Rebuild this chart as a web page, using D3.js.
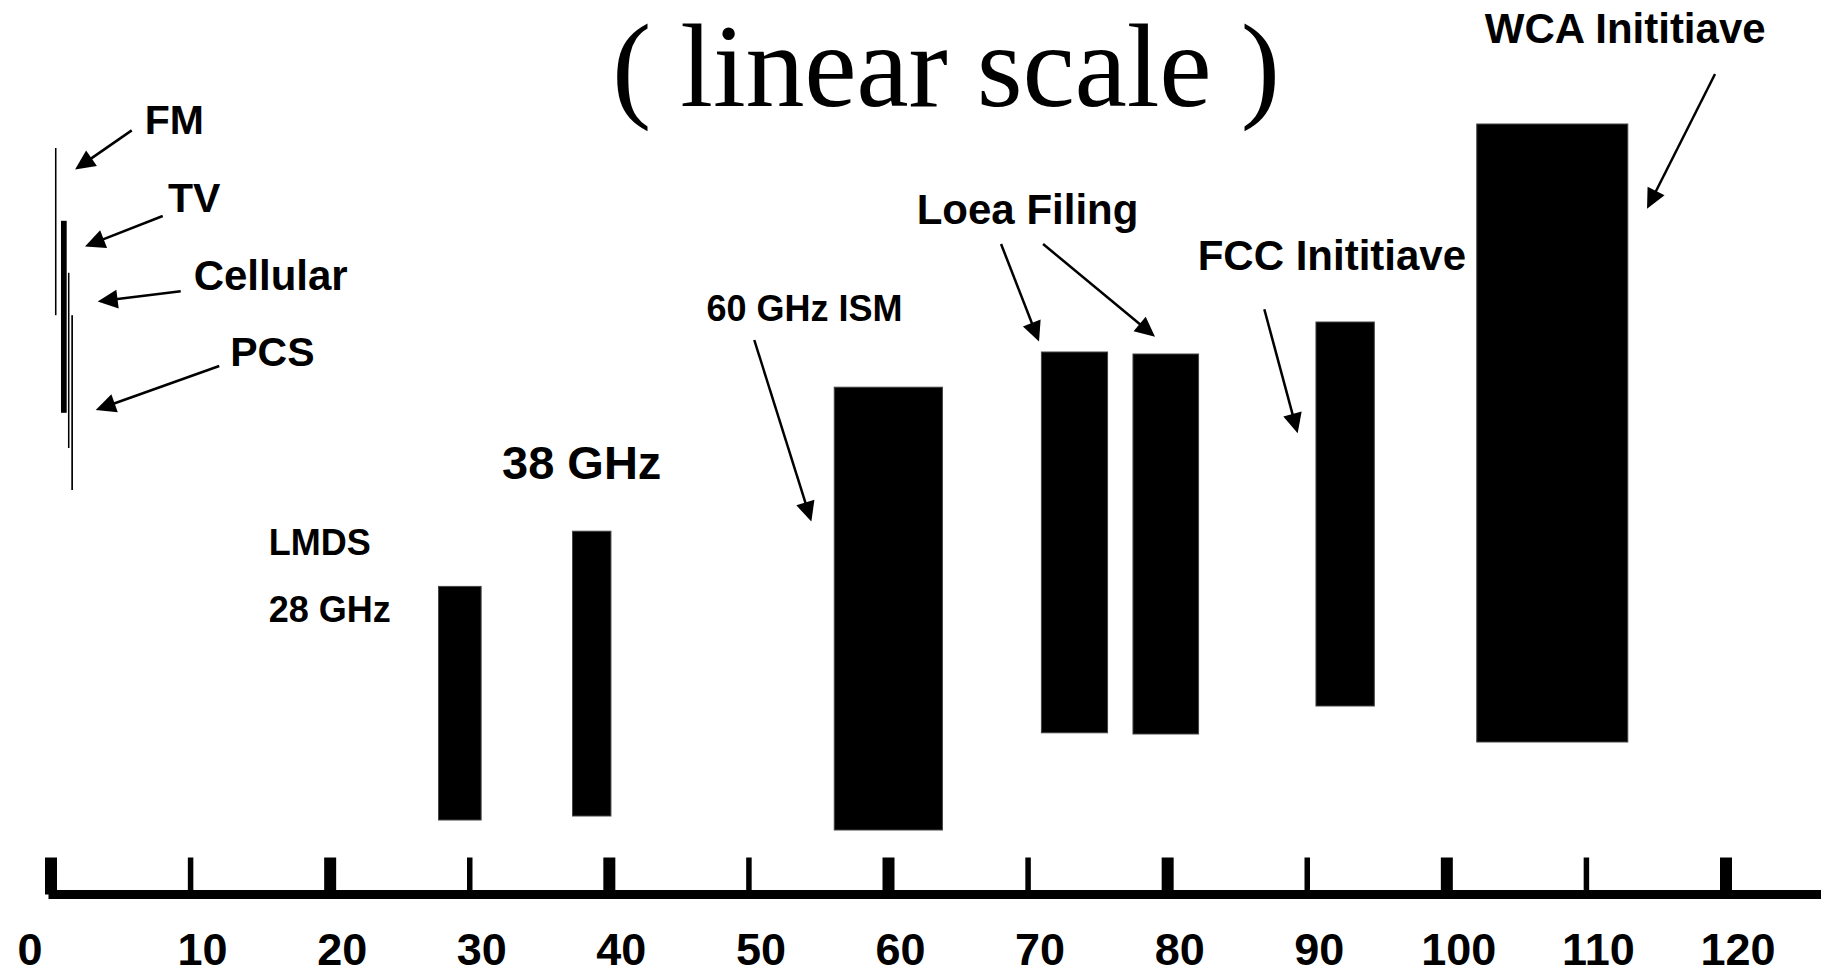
<!DOCTYPE html>
<html>
<head>
<meta charset="utf-8">
<script src="https://cdn.jsdelivr.net/npm/d3@7"></script>
<style>
  body { margin: 0; background: #fff; }
  svg { display: block; }
</style>
</head>
<body>
<svg id="chart"></svg>
<script>
// frequency bands (GHz along x, arbitrary level along y: bottom/top)
const bandNames = ["FM", "TV", "Cellular", "PCS", "LMDS", "38 GHz", "60 GHz ISM", "Loea 1", "Loea 2", "FCC", "WCA"];
const bandStart = [0.32, 0.75, 1.25, 1.49, 27.8, 37.4, 56.15, 70.99, 77.55, 90.66, 102.18];
const bandEnd   = [0.43, 1.16, 1.36, 1.61, 30.85, 40.15, 63.9, 75.73, 82.25, 94.84, 113.0];
const bandBottom = [73.1, 60.9, 56.5, 51.25, 10.0, 10.5, 8.75, 20.9, 20.75, 24.25, 19.75];
const bandTop    = [94.0, 84.9, 78.4, 73.1, 39.2, 46.1, 64.1, 68.5, 68.25, 72.25, 97.0];

// x axis ticks
const tickValues = [0, 10, 20, 30, 40, 50, 60, 70, 80, 90, 100, 110, 120];
const tickLabels = ["0", "10", "20", "30", "40", "50", "60", "70", "80", "90", "100", "110", "120"];

// annotation text: label, x (GHz), y (level), font size
const noteText = ["FM", "TV", "Cellular", "PCS", "LMDS", "28 GHz", "38 GHz", "60 GHz ISM", "Loea Filing", "FCC Inititiave", "WCA Inititiave"];
const noteX = [6.89, 8.56, 10.40, 13.02, 15.78, 15.78, 32.49, 47.14, 62.2, 82.33, 102.9];
const noteY = [95.8, 86.0, 76.3, 66.75, 43.1, 34.75, 52.6, 72.4, 84.5, 78.8, 107.1];
const noteSize = [41, 41, 42, 41, 36, 36, 47, 36, 42, 42, 42];

// arrows: from (x1,y1) to tip (x2,y2)
const arrowX1 = [5.82, 8.04, 9.33, 12.09, 50.42, 68.10, 71.11, 86.96, 119.25];
const arrowY1 = [96.2, 85.5, 76.1, 66.75, 70.0, 82.0, 82.0, 73.84, 103.25];
const arrowX2 = [1.76, 2.47, 3.38, 3.24, 54.51, 70.82, 79.13, 89.35, 114.38];
const arrowY2 = [91.3, 81.7, 74.8, 61.25, 47.3, 69.8, 70.4, 58.34, 86.4];

const width = 1821;
const height = 974;

const x = d3.scaleLinear().domain([0, 120]).range([50.5, 1725.5]);
const y = d3.scaleLinear().domain([0, 100]).range([900, 100]);

const svg = d3.select("#chart")
    .attr("width", width)
    .attr("height", height)
    .attr("viewBox", [0, 0, width, height]);

// title
svg.append("text")
    .attr("x", 612)
    .attr("y", 106)
    .attr("font-family", "'Liberation Serif', 'Times New Roman', serif")
    .attr("font-size", 118)
    .attr("textLength", 668)
    .attr("lengthAdjust", "spacing")
    .text("( linear scale )");

const bands = bandNames.map((name, i) => ({
  name, x0: bandStart[i], x1: bandEnd[i], y0: bandBottom[i], y1: bandTop[i]
}));

svg.append("g")
  .selectAll("rect")
  .data(bands)
  .join("rect")
    .attr("x", d => x(d.x0))
    .attr("y", d => y(d.y1))
    .attr("width", d => x(d.x1) - x(d.x0))
    .attr("height", d => y(d.y0) - y(d.y1))
    .attr("fill", "#000")
    .attr("stroke", "#444")
    .attr("stroke-width", d => (x(d.x1) - x(d.x0)) > 8 ? 1 : 0);

// arrows
const arrows = arrowX1.map((v, i) => {
  const ax = x(v), ay = y(arrowY1[i]), bx = x(arrowX2[i]), by = y(arrowY2[i]);
  const len = Math.hypot(bx - ax, by - ay);
  const ux = (bx - ax) / len, uy = (by - ay) / len;
  return { ax, ay, bx, by, ux, uy };
});

const head = 20, halfW = 9.5;
const ag = svg.append("g");
ag.selectAll("line")
  .data(arrows)
  .join("line")
    .attr("x1", d => d.ax)
    .attr("y1", d => d.ay)
    .attr("x2", d => d.bx - d.ux * (head - 2))
    .attr("y2", d => d.by - d.uy * (head - 2))
    .attr("stroke", "#000")
    .attr("stroke-width", 2.5);
ag.selectAll("path")
  .data(arrows)
  .join("path")
    .attr("d", d => {
      const cx = d.bx - d.ux * head, cy = d.by - d.uy * head;
      const px = -d.uy * halfW, py = d.ux * halfW;
      return `M${d.bx},${d.by}L${cx + px},${cy + py}L${cx - px},${cy - py}Z`;
    })
    .attr("fill", "#000");

// annotation labels
svg.append("g")
    .attr("font-family", "'Liberation Sans', Arial, Helvetica, sans-serif")
    .attr("font-weight", "bold")
  .selectAll("text")
  .data(noteText)
  .join("text")
    .attr("x", (d, i) => x(noteX[i]) - 2)
    .attr("y", (d, i) => y(noteY[i]))
    .attr("font-size", (d, i) => noteSize[i])
    .text(d => d);

// x axis
const axisY = 894.5;
const xAxis = g => g
    .attr("transform", `translate(0,${axisY})`)
    .call(d3.axisBottom(x)
      .tickValues(tickValues)
      .tickFormat((d, i) => tickLabels[i])
      .tickSize(0)
      .tickSizeOuter(0))
    .call(g => g.select(".domain").remove())
    .call(g => g.selectAll(".tick text")
      .attr("y", 70)
      .attr("dy", null)
      .attr("dx", d => d === 0 ? -21 : 12)
      .attr("fill", "#000")
      .attr("font-size", 45)
      .attr("font-weight", "bold")
      .attr("font-family", "'Liberation Sans', Arial, Helvetica, sans-serif"))
    .call(g => g.selectAll(".tick line")
      .attr("y1", -37)
      .attr("y2", 0)
      .attr("stroke", "#000")
      .attr("stroke-width", d => d % 20 === 0 ? 12 : 5.5));

svg.append("g").call(xAxis);

svg.append("line")
    .attr("x1", x(0) - 2)
    .attr("x2", width)
    .attr("y1", axisY)
    .attr("y2", axisY)
    .attr("stroke", "#000")
    .attr("stroke-width", 9);
</script>
</body>
</html>
